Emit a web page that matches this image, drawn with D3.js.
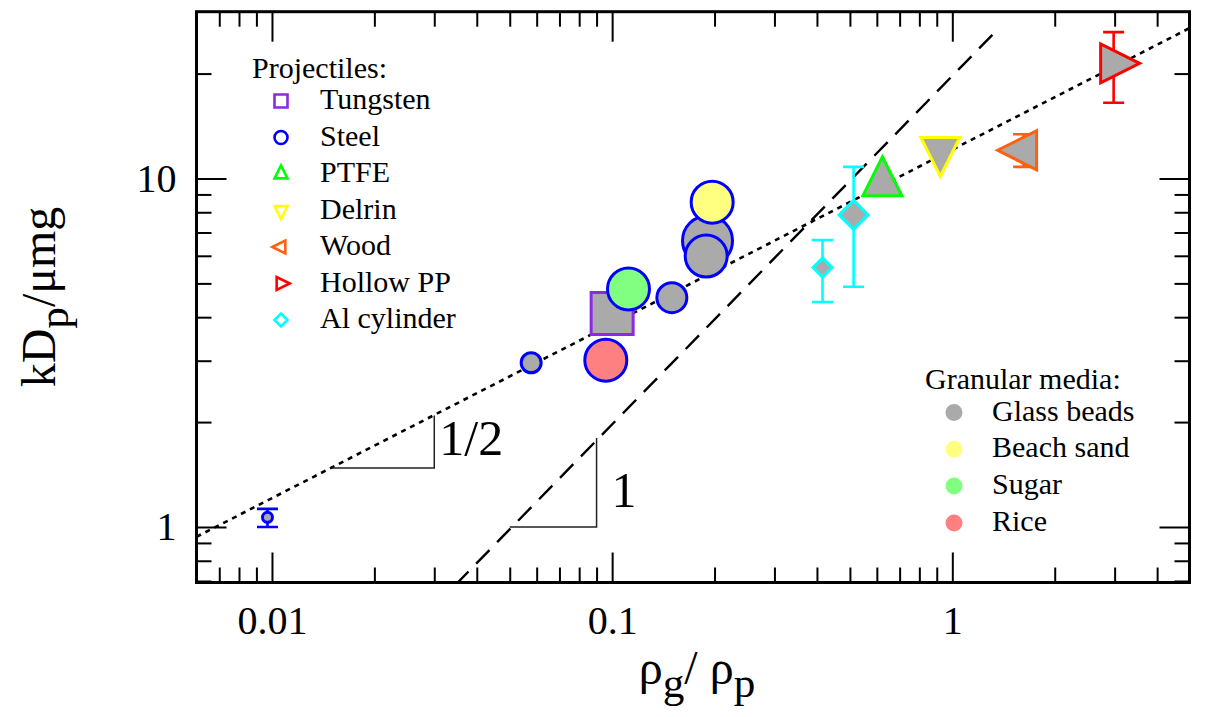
<!DOCTYPE html>
<html>
<head>
<meta charset="utf-8">
<script src="https://cdn.jsdelivr.net/npm/d3@7"></script>
<style>
  html, body { margin: 0; padding: 0; background: #fff; }
  svg { display: block; font-family: "Liberation Serif", "Times New Roman", serif; }
</style>
</head>
<body>
<svg id="chart" width="1209" height="717"></svg>
<script>
// ---- measurements: density ratio vs. scaled drag coefficient ----
const projectile   = ["Steel", "Steel", "Tungsten", "Steel", "Steel", "Steel", "Steel", "Steel", "Steel",
                      "Al cylinder", "Al cylinder", "PTFE", "Delrin", "Wood", "Hollow PP"];
const medium       = ["Glass beads", "Glass beads", "Glass beads", "Rice", "Sugar", "Glass beads", "Glass beads",
                      "Glass beads", "Beach sand", "Glass beads", "Glass beads", "Glass beads", "Glass beads",
                      "Glass beads", "Glass beads"];
const densityRatio = [0.0097, 0.0578, 0.100, 0.0958, 0.1117, 0.1498, 0.1907, 0.189, 0.1968,
                      0.4154, 0.5126, 0.623, 0.922, 1.62, 2.98];
const kDp          = [1.066, 2.96, 4.10, 3.01, 4.82, 4.55, 6.63, 5.99, 8.55,
                      5.55, 7.86, 9.72, 12.03, 12.05, 21.4];
const kDpLow       = [1.0, null, null, null, null, null, null, null, null,
                      4.42, 4.89, null, null, 10.8, 16.5];
const kDpHigh      = [1.127, null, null, null, null, null, null, null, null,
                      6.66, 10.8, null, null, 13.4, 26.3];

// legend entries
const projectileNames  = ["Tungsten", "Steel", "PTFE", "Delrin", "Wood", "Hollow PP", "Al cylinder"];
const projectileColors = ["#8a2be2", "#0000ff", "#00ff00", "#ffff00", "#ff6010", "#ff0000", "#00ffff"];
const projectileShapes = ["square", "circle", "triangleUp", "triangleDown", "triangleLeft", "triangleRight", "diamond"];
const mediaNames  = ["Glass beads", "Beach sand", "Sugar", "Rice"];
const mediaColors = ["#aaaaaa", "#ffff80", "#80ff80", "#ff8080"];

// reference power laws: prefactors and exponents
const halfPowerPrefactor = 12.1, halfPowerExponent = 0.5;
const linearPrefactor = 19.7, linearExponent = 1;
const linearRange = [0.03, 1.37];

// slope guides: [x0, x1, y0] and text
const halfSlopeGuide = [0.015, 0.030, 1.477];
const unitSlopeGuide = [0.050, 0.090, 1.0];
const slopeLabels = ["1/2", "1"];

// axis ticks
const xMajorTicks = [0.01, 0.1, 1];
const xTickLabels = ["0.01", "0.1", "1"];
const xMinorTicks = [0.007, 0.008, 0.009, 0.02, 0.03, 0.04, 0.05, 0.06, 0.07, 0.08, 0.09,
                     0.2, 0.3, 0.4, 0.5, 0.6, 0.7, 0.8, 0.9, 2, 3, 4];
const yMajorTicks = [1, 10];
const yTickLabels = ["1", "10"];
const yMinorTicks = [0.7, 0.8, 0.9, 2, 3, 4, 5, 6, 7, 8, 9, 20];

// ---- marker styling (half-size in px, per point) ----
const markerHalfSize = [5, 10, 21, 21, 21, 15, 25, 21, 21, 9.5, 14.5, 19.5, 19.5, 19.5, 19.5];

const svg = d3.select("#chart");
const margin = { left: 196.5, top: 11.7, right: 1209 - 1189.5, bottom: 717 - 582.5 };
const W = 1209 - margin.left - margin.right;
const H = 717 - margin.top - margin.bottom;

const x = d3.scaleLog().domain([0.00600, 4.98]).range([0, W]);
const y = d3.scaleLog().domain([0.693, 30.1]).range([H, 0]);

const g = svg.append("g").attr("transform", `translate(${margin.left},${margin.top})`);

svg.append("defs").append("clipPath").attr("id", "plotClip")
  .append("rect").attr("width", W).attr("height", H);

const shapeOf = name => projectileShapes[projectileNames.indexOf(name)];
const colorOfProjectile = name => projectileColors[projectileNames.indexOf(name)];
const colorOfMedium = name => mediaColors[mediaNames.indexOf(name)];

function symbolPath(shape, s) {
  switch (shape) {
    case "square": return `M${-s},${-s}H${s}V${s}H${-s}Z`;
    case "circle": return `M${s},0A${s},${s} 0 1,1 ${-s},0A${s},${s} 0 1,1 ${s},0Z`;
    case "diamond": return `M0,${-s}L${s},0L0,${s}L${-s},0Z`;
    case "triangleUp": return `M0,${-4 * s / 3}L${s},${2 * s / 3}L${-s},${2 * s / 3}Z`;
    case "triangleDown": return `M0,${4 * s / 3}L${s},${-2 * s / 3}L${-s},${-2 * s / 3}Z`;
    case "triangleLeft": return `M${-4 * s / 3},0L${2 * s / 3},${-s}L${2 * s / 3},${s}Z`;
    case "triangleRight": return `M${4 * s / 3},0L${-2 * s / 3},${-s}L${-2 * s / 3},${s}Z`;
  }
}

// ---- axes (inward ticks on all four sides) ----
function styleAxis(sel) {
  sel.select(".domain").remove();
  sel.selectAll(".tick line").attr("stroke", "#000").attr("stroke-width", 2);
  sel.selectAll("text").attr("fill", "#000").attr("font-size", 40)
     .attr("font-family", "Liberation Serif, Times New Roman, serif");
}
const minorLen = 15, majorLen = 30;

g.append("g").attr("transform", `translate(0,${H})`)
  .call(d3.axisBottom(x).tickValues(xMinorTicks).tickSize(-minorLen).tickFormat("")).call(styleAxis);
g.append("g").attr("transform", `translate(0,${H})`)
  .call(d3.axisBottom(x).tickValues(xMajorTicks).tickSize(-majorLen).tickPadding(23)
    .tickFormat((d, i) => xTickLabels[i])).call(styleAxis);
g.append("g")
  .call(d3.axisTop(x).tickValues(xMinorTicks).tickSize(-minorLen).tickFormat("")).call(styleAxis);
g.append("g")
  .call(d3.axisTop(x).tickValues(xMajorTicks).tickSize(-majorLen).tickFormat("")).call(styleAxis);

g.append("g")
  .call(d3.axisLeft(y).tickValues(yMinorTicks).tickSize(-minorLen).tickFormat("")).call(styleAxis);
g.append("g")
  .call(d3.axisLeft(y).tickValues(yMajorTicks).tickSize(-majorLen).tickPadding(20)
    .tickFormat((d, i) => yTickLabels[i])).call(styleAxis);
g.append("g").attr("transform", `translate(${W},0)`)
  .call(d3.axisRight(y).tickValues(yMinorTicks).tickSize(-minorLen).tickFormat("")).call(styleAxis);
g.append("g").attr("transform", `translate(${W},0)`)
  .call(d3.axisRight(y).tickValues(yMajorTicks).tickSize(-majorLen).tickFormat("")).call(styleAxis);

// ---- reference power laws ----
const lines = g.append("g").attr("clip-path", "url(#plotClip)");
const halfLaw = d => halfPowerPrefactor * Math.pow(d, halfPowerExponent);
const linLaw = d => linearPrefactor * Math.pow(d, linearExponent);
const lineGen = f => d3.line().x(d => x(d)).y(d => y(f(d)));

lines.append("path")
  .datum(x.domain())
  .attr("d", lineGen(halfLaw))
  .attr("fill", "none").attr("stroke", "#000").attr("stroke-width", 2.6)
  .attr("stroke-dasharray", "5,5");

lines.append("path")
  .datum(linearRange)
  .attr("d", lineGen(linLaw))
  .attr("fill", "none").attr("stroke", "#000").attr("stroke-width", 2.4)
  .attr("stroke-dasharray", "19,11");

// ---- slope guides ----
function slopeGuide(guide, exponent, label, lx, ly) {
  const [x0, x1, y0] = guide;
  const y1 = y0 * Math.pow(x1 / x0, exponent);
  g.append("path")
    .attr("d", `M${x(x0)},${y(y0)}H${x(x1)}V${y(y1)}`)
    .attr("fill", "none").attr("stroke", "#222").attr("stroke-width", 1.5);
  g.append("text")
    .attr("x", x(x1) + lx).attr("y", y(y0) + ly)
    .attr("font-size", 50).attr("fill", "#000")
    .text(label);
}
slopeGuide(halfSlopeGuide, halfPowerExponent, slopeLabels[0], 5, -13);
slopeGuide(unitSlopeGuide, linearExponent, slopeLabels[1], 15, -20);

// ---- error bars ----
const capHalf = 10.5;
const errIdx = d3.range(kDp.length).filter(i => kDpLow[i] !== null);
const eb = g.append("g");
errIdx.forEach(i => {
  const cx = x(densityRatio[i]);
  const col = colorOfProjectile(projectile[i]);
  const yl = y(kDpLow[i]), yh = y(kDpHigh[i]);
  eb.append("path")
    .attr("d", `M${cx},${yl}V${yh}M${cx - capHalf},${yl}H${cx + capHalf}M${cx - capHalf},${yh}H${cx + capHalf}`)
    .attr("fill", "none").attr("stroke", col).attr("stroke-width", 2.6);
});

// ---- data markers ----
g.append("g").selectAll("path.pt")
  .data(d3.range(kDp.length))
  .join("path")
  .attr("class", "pt")
  .attr("transform", i => `translate(${x(densityRatio[i])},${y(kDp[i])})`)
  .attr("d", i => symbolPath(shapeOf(projectile[i]), markerHalfSize[i]))
  .attr("fill", i => colorOfMedium(medium[i]))
  .attr("stroke", i => colorOfProjectile(projectile[i]))
  .attr("stroke-width", 3)
  .attr("stroke-linejoin", "miter");

// ---- frame ----
g.append("rect").attr("width", W).attr("height", H)
  .attr("fill", "none").attr("stroke", "#000").attr("stroke-width", 3);

// ---- axis titles ----
const yTitle = svg.append("text")
  .attr("transform", "translate(55,297) rotate(-90)")
  .attr("text-anchor", "middle").attr("font-size", 48).attr("fill", "#000");
yTitle.append("tspan").text("kD");
yTitle.append("tspan").attr("dy", "0.3em").attr("font-size", "0.9em").text("p");
yTitle.append("tspan").attr("dy", "-0.27em").text("/μmg");

const xTitle = svg.append("text")
  .attr("x", 697).attr("y", 684)
  .attr("text-anchor", "middle").attr("font-size", 48).attr("fill", "#000");
xTitle.append("tspan").text("ρ");
xTitle.append("tspan").attr("dy", "0.3em").attr("font-size", "0.9em").text("g");
xTitle.append("tspan").attr("dy", "-0.27em").text("/ ρ");
xTitle.append("tspan").attr("dy", "0.3em").attr("font-size", "0.9em").text("p");

// ---- projectile legend ----
const leg1 = svg.append("g").attr("font-size", 30).attr("fill", "#000");
leg1.append("text").attr("x", 252).attr("y", 78).text("Projectiles:");
projectileNames.forEach((name, i) => {
  const cy = 101 + i * 36.5;
  leg1.append("path")
    .attr("transform", `translate(281,${cy})`)
    .attr("d", symbolPath(projectileShapes[i], projectileShapes[i].startsWith("triangle") ? 6.5 : 6.5))
    .attr("fill", "none").attr("stroke", projectileColors[i]).attr("stroke-width", 2.6);
  leg1.append("text").attr("x", 320).attr("y", cy + 8).text(name);
});

// ---- granular media legend ----
const leg2 = svg.append("g").attr("font-size", 30).attr("fill", "#000");
leg2.append("text").attr("x", 925).attr("y", 389).text("Granular media:");
mediaNames.forEach((name, i) => {
  const cy = 412.5 + i * 36.8;
  leg2.append("circle").attr("cx", 954).attr("cy", cy).attr("r", 8.5).attr("fill", mediaColors[i]);
  leg2.append("text").attr("x", 992).attr("y", cy + 8).text(name);
});
</script>
</body>
</html>
